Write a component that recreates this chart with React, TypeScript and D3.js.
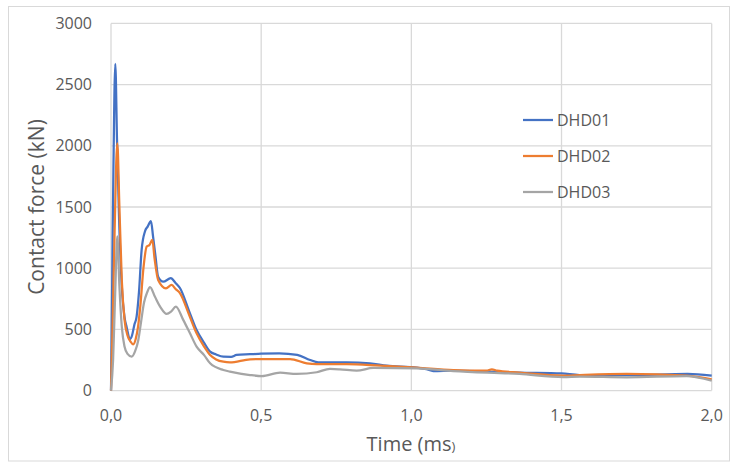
import React from "react";
import * as d3 from "d3";

const xTicks = [0, 0.5, 1.0, 1.5, 2.0];
const yTicks = [0, 500, 1000, 1500, 2000, 2500, 3000];
const seriesNames = ["DHD01", "DHD02", "DHD03"];
const colors = ["#4472C4", "#ED7D31", "#A5A5A5"];

const t1 = [0, 0.004, 0.008, 0.0143, 0.02, 0.027, 0.036, 0.045, 0.052, 0.063, 0.07, 0.078, 0.085, 0.093, 0.102, 0.113, 0.122, 0.133, 0.14, 0.148, 0.157, 0.174, 0.199, 0.215, 0.23, 0.26, 0.285, 0.31, 0.33, 0.35, 0.374, 0.4, 0.418, 0.463, 0.5, 0.56, 0.62, 0.663, 0.69, 0.785, 0.862, 0.918, 1.018, 1.05, 1.073, 1.14, 1.25, 1.36, 1.5, 1.56, 1.72, 1.92, 2.0];
const v1 = [0, 900, 1800, 2670, 2050, 1395, 850, 600, 520, 420, 450, 540, 600, 800, 1150, 1300, 1340, 1385, 1260, 1100, 930, 890, 918, 880, 836, 650, 495, 390, 318, 295, 277, 276, 291, 297, 302, 305, 292, 250, 231, 231, 223, 204, 187, 175, 160, 163, 155, 147, 140, 127, 127, 136, 122];

const t2 = [0, 0.006, 0.012, 0.021, 0.028, 0.036, 0.045, 0.055, 0.065, 0.074, 0.082, 0.09, 0.098, 0.108, 0.119, 0.128, 0.1376, 0.145, 0.157, 0.183, 0.202, 0.215, 0.23, 0.26, 0.285, 0.31, 0.33, 0.35, 0.374, 0.396, 0.463, 0.502, 0.596, 0.652, 0.685, 0.785, 0.896, 1.018, 1.14, 1.25, 1.268, 1.285, 1.36, 1.505, 1.561, 1.717, 1.917, 2.0];
const v2 = [0, 600, 1300, 2020, 1500, 900, 580, 450, 400, 378, 420, 520, 700, 1000, 1177, 1190, 1231, 1080, 904, 836, 863, 830, 795, 620, 468, 360, 291, 255, 236, 231, 256, 258, 258, 223, 217, 217, 204, 187, 168, 163, 174, 163, 147, 122, 127, 136, 122, 92];

const t3 = [0, 0.007, 0.014, 0.021, 0.028, 0.036, 0.045, 0.055, 0.069, 0.08, 0.091, 0.1, 0.11, 0.12, 0.13, 0.146, 0.165, 0.185, 0.2, 0.216, 0.24, 0.263, 0.285, 0.31, 0.33, 0.374, 0.396, 0.463, 0.502, 0.563, 0.618, 0.685, 0.729, 0.762, 0.818, 0.873, 1.018, 1.14, 1.36, 1.506, 1.561, 1.717, 1.917, 2.0];
const v3 = [0, 250, 800, 1259, 850, 520, 360, 300, 277, 320, 414, 560, 720, 800, 845, 768, 680, 626, 645, 686, 580, 468, 359, 290, 223, 168, 155, 127, 119, 147, 136, 150, 177, 174, 163, 185, 182, 160, 136, 111, 114, 109, 119, 81];

const times = [t1, t2, t3];
const values = [v1, v2, v3];

export default function App() {
  const W = 738, H = 463;
  const left = 111, right = 711.7, top = 23.4, bottom = 390.6;
  const x = d3.scaleLinear().domain([0, 2]).range([left, right]);
  const y = d3.scaleLinear().domain([0, 3000]).range([bottom, top]);
  const line = d3.line<[number, number]>().x(d => x(d[0])).y(d => y(d[1])).curve(d3.curveMonotoneX);
  const font = "'Open Sans', 'Noto Sans', sans-serif";
  const txt = "#595959";
  const grid = "#d9d9d9";
  const legendY = [120, 156, 192];
  return (
    <svg width={W} height={H} style={{ position: "absolute", left: 0, top: 0, background: "#fff" }} fontFamily={font}>
      <rect x={8.5} y={6.5} width={721} height={454.5} fill="#fff" stroke={grid} strokeWidth={1} />
      {yTicks.map(v => (
        <g key={"y" + v}>
          <line x1={left} x2={right} y1={y(v)} y2={y(v)} stroke={grid} strokeWidth={1.3} />
          <text x={92} y={y(v)} dy="0.35em" textAnchor="end" fontSize={16} fill={txt}>{v}</text>
        </g>
      ))}
      {xTicks.map(v => (
        <g key={"x" + v}>
          <line x1={x(v)} x2={x(v)} y1={top} y2={bottom} stroke={grid} strokeWidth={1.3} />
          <text x={x(v)} y={421} textAnchor="middle" fontSize={16} fill={txt}>{v.toFixed(1).replace(".", ",")}</text>
        </g>
      ))}
      {values.map((vals, i) => (
        <path key={"s" + i} d={line(vals.map((v, j) => [times[i][j], v]) as [number, number][]) || ""} fill="none" stroke={colors[i]} strokeWidth={2.25} strokeLinejoin="round" />
      ))}
      {seriesNames.map((n, i) => (
        <g key={"l" + i}>
          <line x1={523} x2={553} y1={legendY[i]} y2={legendY[i]} stroke={colors[i]} strokeWidth={2.25} />
          <text x={557} y={legendY[i]} dy="0.35em" fontSize={16} fill={txt}>{n}</text>
        </g>
      ))}
      <text x={411} y={451} textAnchor="middle" fontSize={20} fill={txt}>Time (ms<tspan fontSize={13}>)</tspan></text>
      <text transform={`translate(44,${(top + bottom) / 2}) rotate(-90)`} textAnchor="middle" fontSize={21} fill={txt}>Contact force (kN)</text>
    </svg>
  );
}
